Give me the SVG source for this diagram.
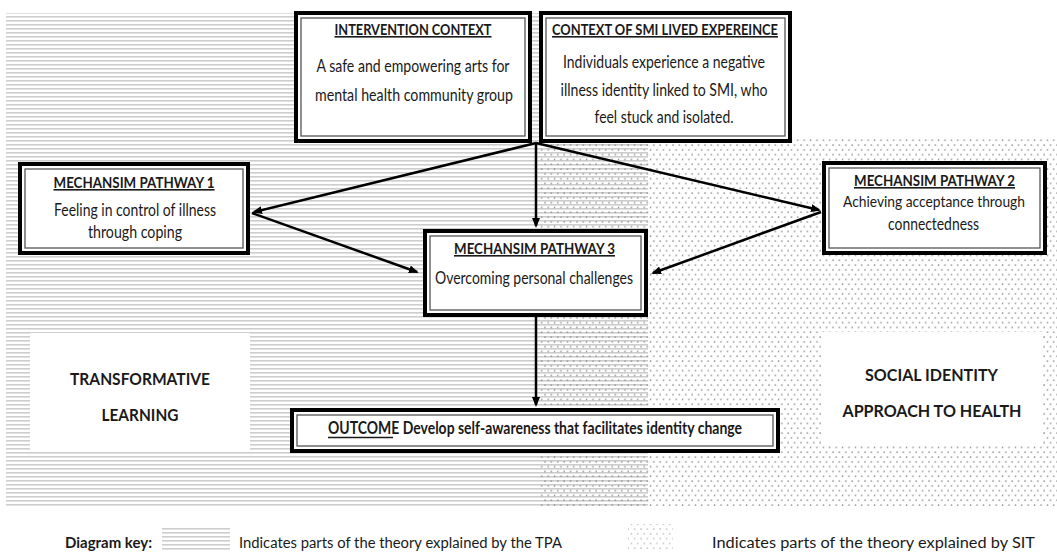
<svg xmlns="http://www.w3.org/2000/svg" width="1057" height="552" viewBox="0 0 1057 552">
<style>
.outer{fill:#fff;stroke:#000;stroke-width:4}
.inner{fill:none;stroke:#555;stroke-width:1.3}
.t{font-family:Lato,"Liberation Sans",sans-serif;font-size:16.5px;fill:#1a1a1a;text-anchor:middle}
.h{font-weight:bold;text-decoration:underline;font-size:16px}
.b{font-weight:bold;font-size:17.5px}
.k{font-family:Lato,"Liberation Sans",sans-serif;font-size:15.5px;fill:#1a1a1a}
.c{stroke:#000;stroke-width:2.5;fill:none;marker-end:url(#ah)}
</style>
<defs>
<pattern id="tpa" width="8" height="4" patternUnits="userSpaceOnUse">
<rect x="0" y="0" width="8" height="1.6" fill="#cdcdcd"/>
</pattern>
<pattern id="sit" width="6.4" height="9.6" patternUnits="userSpaceOnUse">
<circle cx="1" cy="1" r="0.85" fill="#8c8c8c"/>
<circle cx="4.2" cy="5.8" r="0.85" fill="#8c8c8c"/>
</pattern>
<marker id="ah" viewBox="0 0 10 8" refX="8" refY="4" markerWidth="10" markerHeight="8" markerUnits="userSpaceOnUse" orient="auto">
<path d="M0,0 L10,4 L0,8 z" fill="#000"/>
</marker>
</defs>
<rect width="1057" height="552" fill="#fff"/>
<g id="background">
<rect x="6" y="13" width="642" height="494" fill="url(#tpa)"/>
<rect x="540" y="137" width="517" height="370" fill="url(#sit)"/>
<rect x="30" y="333" width="220" height="117" fill="#fff"/>
<rect x="822" y="332" width="220" height="113" fill="#fff"/>
</g>
<g id="theory-labels">
<text class="t b" x="140" y="385" textLength="140" lengthAdjust="spacingAndGlyphs">TRANSFORMATIVE</text>
<text class="t b" x="140" y="421" textLength="77" lengthAdjust="spacingAndGlyphs">LEARNING</text>
<text class="t b" x="931.5" y="381" textLength="133" lengthAdjust="spacingAndGlyphs">SOCIAL IDENTITY</text>
<text class="t b" x="932" y="417" textLength="179" lengthAdjust="spacingAndGlyphs">APPROACH TO HEALTH</text>
</g>
<g id="connectors">
<line class="c" x1="536" y1="143" x2="254" y2="212"/>
<line class="c" x1="536" y1="143" x2="819" y2="210"/>
<line class="c" x1="536" y1="143" x2="536" y2="226"/>
<line class="c" x1="252" y1="213" x2="417" y2="272"/>
<line class="c" x1="821" y1="212" x2="653" y2="273"/>
<line class="c" x1="536" y1="317" x2="536" y2="405"/>
</g>
<g id="intervention-context">
<rect class="outer" x="296" y="13" width="234" height="128"/>
<rect class="inner" x="301" y="18" width="224" height="118"/>
<text class="t h" x="413" y="35" textLength="157" lengthAdjust="spacingAndGlyphs">INTERVENTION CONTEXT</text>
<text class="t" x="413" y="72" textLength="193" lengthAdjust="spacingAndGlyphs">A safe and empowering arts for</text>
<text class="t" x="414" y="101" textLength="198" lengthAdjust="spacingAndGlyphs">mental health community group</text>
</g>
<g id="smi-context">
<rect class="outer" x="541" y="13" width="249" height="128"/>
<rect class="inner" x="546" y="18" width="239" height="118"/>
<text class="t h" x="665" y="35" textLength="226" lengthAdjust="spacingAndGlyphs">CONTEXT OF SMI LIVED EXPEREINCE</text>
<text class="t" x="664" y="68" textLength="202" lengthAdjust="spacingAndGlyphs">Individuals experience a negative</text>
<text class="t" x="664" y="96" textLength="207" lengthAdjust="spacingAndGlyphs">illness identity linked to SMI, who</text>
<text class="t" x="664" y="123" textLength="139" lengthAdjust="spacingAndGlyphs">feel stuck and isolated.</text>
</g>
<g id="pathway-1">
<rect class="outer" x="20" y="164" width="228" height="89"/>
<rect class="inner" x="25" y="169" width="218" height="79"/>
<text class="t h" x="134" y="188" textLength="161" lengthAdjust="spacingAndGlyphs">MECHANSIM PATHWAY 1</text>
<text class="t" x="135" y="216" textLength="162" lengthAdjust="spacingAndGlyphs">Feeling in control of illness</text>
<text class="t" x="135" y="238" textLength="94" lengthAdjust="spacingAndGlyphs">through coping</text>
</g>
<g id="pathway-2">
<rect class="outer" x="824" y="163" width="221" height="90"/>
<rect class="inner" x="829" y="168" width="211" height="80"/>
<text class="t h" x="934.5" y="186" textLength="161" lengthAdjust="spacingAndGlyphs">MECHANSIM PATHWAY 2</text>
<text class="t" x="934" y="207" style="font-size:15px" textLength="182" lengthAdjust="spacingAndGlyphs">Achieving acceptance through</text>
<text class="t" x="933.5" y="230" textLength="91" lengthAdjust="spacingAndGlyphs">connectedness</text>
</g>
<g id="pathway-3">
<rect class="outer" x="425" y="231" width="221" height="84"/>
<rect class="inner" x="430" y="236" width="211" height="74"/>
<text class="t h" x="534.5" y="254" textLength="161" lengthAdjust="spacingAndGlyphs">MECHANSIM PATHWAY 3</text>
<text class="t" x="534" y="284" textLength="198" lengthAdjust="spacingAndGlyphs">Overcoming personal challenges</text>
</g>
<g id="outcome">
<rect class="outer" x="292" y="410" width="486" height="41"/>
<rect class="inner" x="297" y="415" width="476" height="31"/>
<text class="t" x="535" y="434" font-weight="bold" textLength="414" lengthAdjust="spacingAndGlyphs">OUTCOME Develop self-awareness that facilitates identity change</text>
<line x1="328" y1="437.5" x2="393" y2="437.5" stroke="#1a1a1a" stroke-width="1.3"/>
</g>
<g id="key">
<text class="k" x="65" y="548" font-weight="bold" textLength="87" lengthAdjust="spacingAndGlyphs">Diagram key:</text>
<rect x="162" y="526" width="68" height="26" fill="url(#tpa)"/>
<text class="k" x="239" y="548" textLength="323" lengthAdjust="spacingAndGlyphs">Indicates parts of the theory explained by the TPA</text>
<rect x="628" y="524" width="45" height="28" fill="url(#sit)" opacity="0.6"/>
<text class="k" x="712" y="548" textLength="323" lengthAdjust="spacingAndGlyphs">Indicates parts of the theory explained by SIT</text>
</g>
</svg>
